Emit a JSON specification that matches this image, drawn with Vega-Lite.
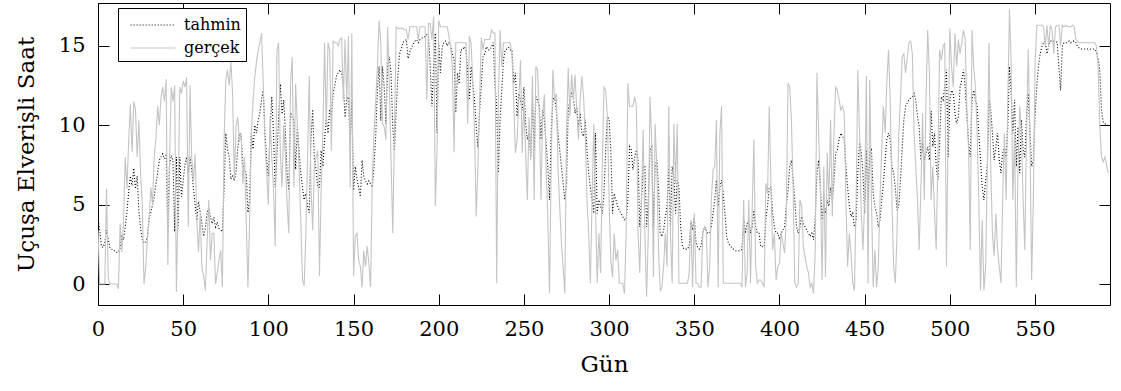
{
 "$schema": "https://vega.github.io/schema/vega-lite/v6.json",
 "width": 1012, "height": 302,
 "autosize": {"type": "none"},
 "padding": {"left": 98, "top": 3, "right": 11, "bottom": 86},
 "background": "white",
 "config": {"view": {"stroke": "black", "strokeWidth": 1}, "font": "DejaVu Serif"},
 "data": {"values": [
{"d":0,"tahmin":4.2,"gerçek":3.4},{"d":1,"tahmin":3.4,"gerçek":0},{"d":2,"tahmin":2.4,"gerçek":0},{"d":3,"tahmin":2.3,"gerçek":0},{"d":4,"tahmin":2.6,"gerçek":0},{"d":5,"tahmin":3.4,"gerçek":6},{"d":6,"tahmin":2.8,"gerçek":0.4},{"d":7,"tahmin":2.3,"gerçek":0},{"d":8,"tahmin":2.2,"gerçek":0},{"d":9,"tahmin":2.1,"gerçek":0},
{"d":10,"tahmin":2.1,"gerçek":0},{"d":11,"tahmin":2,"gerçek":0},{"d":12,"tahmin":2,"gerçek":-0.3},{"d":13,"tahmin":2.3,"gerçek":3.8},{"d":14,"tahmin":3,"gerçek":2},{"d":15,"tahmin":2.8,"gerçek":4},{"d":16,"tahmin":3.6,"gerçek":8},{"d":17,"tahmin":4.6,"gerçek":6},{"d":18,"tahmin":5.8,"gerçek":9},{"d":19,"tahmin":6.8,"gerçek":11.3},
{"d":20,"tahmin":6.2,"gerçek":8.3},{"d":21,"tahmin":7.3,"gerçek":11.5},{"d":22,"tahmin":6,"gerçek":11},{"d":23,"tahmin":6.8,"gerçek":8},{"d":24,"tahmin":4.6,"gerçek":10.3},{"d":25,"tahmin":3.5,"gerçek":7},{"d":26,"tahmin":2.8,"gerçek":5},{"d":27,"tahmin":2.6,"gerçek":0},{"d":28,"tahmin":2.6,"gerçek":1},{"d":29,"tahmin":3,"gerçek":2.8},
{"d":30,"tahmin":4.2,"gerçek":4},{"d":31,"tahmin":4.5,"gerçek":6.1},{"d":32,"tahmin":5,"gerçek":5},{"d":33,"tahmin":5.5,"gerçek":8},{"d":34,"tahmin":6.3,"gerçek":9.2},{"d":35,"tahmin":7,"gerçek":11.2},{"d":36,"tahmin":7.8,"gerçek":10},{"d":37,"tahmin":8,"gerçek":11.8},{"d":38,"tahmin":8.2,"gerçek":12.4},{"d":39,"tahmin":7.9,"gerçek":11.5},
{"d":40,"tahmin":8.1,"gerçek":12.9},{"d":41,"tahmin":3.5,"gerçek":1.2},{"d":42,"tahmin":7.5,"gerçek":8},{"d":43,"tahmin":8.1,"gerçek":12.4},{"d":44,"tahmin":7.8,"gerçek":11.5},{"d":45,"tahmin":3.3,"gerçek":12.5},{"d":46,"tahmin":8,"gerçek":-0.5},{"d":47,"tahmin":3.5,"gerçek":5},{"d":48,"tahmin":8,"gerçek":12.4},{"d":49,"tahmin":5.5,"gerçek":12},
{"d":50,"tahmin":6.5,"gerçek":12.8},{"d":51,"tahmin":7.5,"gerçek":12.4},{"d":52,"tahmin":8,"gerçek":13},{"d":53,"tahmin":7,"gerçek":3.6},{"d":54,"tahmin":8,"gerçek":12.5},{"d":55,"tahmin":7.2,"gerçek":8},{"d":56,"tahmin":6,"gerçek":6.5},{"d":57,"tahmin":5,"gerçek":8.2},{"d":58,"tahmin":4,"gerçek":4},{"d":59,"tahmin":5.2,"gerçek":2},
{"d":60,"tahmin":4.5,"gerçek":4.5},{"d":61,"tahmin":3.8,"gerçek":1},{"d":62,"tahmin":3,"gerçek":0.5},{"d":63,"tahmin":3.5,"gerçek":-0.4},{"d":64,"tahmin":4.5,"gerçek":2.5},{"d":65,"tahmin":4.8,"gerçek":5.3},{"d":66,"tahmin":4.2,"gerçek":1.5},{"d":67,"tahmin":3.8,"gerçek":3.2},{"d":68,"tahmin":4.2,"gerçek":3.2},{"d":69,"tahmin":3.6,"gerçek":0},
{"d":70,"tahmin":3.9,"gerçek":0.7},{"d":71,"tahmin":3.5,"gerçek":1.5},{"d":72,"tahmin":3.4,"gerçek":2.1},{"d":73,"tahmin":3.3,"gerçek":-0.2},{"d":74,"tahmin":6,"gerçek":9},{"d":75,"tahmin":9.5,"gerçek":12.8},{"d":76,"tahmin":8.5,"gerçek":13.5},{"d":77,"tahmin":8,"gerçek":12.5},{"d":78,"tahmin":6.6,"gerçek":14},{"d":79,"tahmin":6.8,"gerçek":12},
{"d":80,"tahmin":6.5,"gerçek":6.6},{"d":81,"tahmin":7,"gerçek":9.9},{"d":82,"tahmin":8.5,"gerçek":10.5},{"d":83,"tahmin":9.5,"gerçek":9},{"d":84,"tahmin":9.4,"gerçek":9.5},{"d":85,"tahmin":7.5,"gerçek":6.3},{"d":86,"tahmin":7.2,"gerçek":8},{"d":87,"tahmin":7,"gerçek":4},{"d":88,"tahmin":4.5,"gerçek":-0.2},{"d":89,"tahmin":5.3,"gerçek":4},
{"d":90,"tahmin":9.5,"gerçek":9.5},{"d":91,"tahmin":8.5,"gerçek":11.5},{"d":92,"tahmin":10,"gerçek":13},{"d":93,"tahmin":9.5,"gerçek":14},{"d":94,"tahmin":10.3,"gerçek":14.7},{"d":95,"tahmin":10.8,"gerçek":15.2},{"d":96,"tahmin":11.6,"gerçek":15.8},{"d":97,"tahmin":12.2,"gerçek":12.6},{"d":98,"tahmin":9.5,"gerçek":9},{"d":99,"tahmin":7.8,"gerçek":7},
{"d":100,"tahmin":6.8,"gerçek":5},{"d":101,"tahmin":9.5,"gerçek":10.5},{"d":102,"tahmin":11.8,"gerçek":8},{"d":103,"tahmin":9.5,"gerçek":6},{"d":104,"tahmin":6.1,"gerçek":2.4},{"d":105,"tahmin":8,"gerçek":14.7},{"d":106,"tahmin":10.5,"gerçek":15.2},{"d":107,"tahmin":12.6,"gerçek":8.2},{"d":108,"tahmin":10.7,"gerçek":6.1},{"d":109,"tahmin":11.6,"gerçek":10},
{"d":110,"tahmin":9.5,"gerçek":8},{"d":111,"tahmin":7,"gerçek":5},{"d":112,"tahmin":5.9,"gerçek":3.2},{"d":113,"tahmin":10.8,"gerçek":12.6},{"d":114,"tahmin":10.5,"gerçek":14.3},{"d":115,"tahmin":10.3,"gerçek":6.1},{"d":116,"tahmin":7.2,"gerçek":12.6},{"d":117,"tahmin":9.9,"gerçek":10},{"d":118,"tahmin":8.4,"gerçek":7.4},{"d":119,"tahmin":7,"gerçek":4},
{"d":120,"tahmin":6.1,"gerçek":0.3},{"d":121,"tahmin":5.3,"gerçek":-0.1},{"d":122,"tahmin":5.7,"gerçek":3.2},{"d":123,"tahmin":4.9,"gerçek":8},{"d":124,"tahmin":4.5,"gerçek":13.1},{"d":125,"tahmin":9.1,"gerçek":6.1},{"d":126,"tahmin":11,"gerçek":3.4},{"d":127,"tahmin":7.8,"gerçek":7.4},{"d":128,"tahmin":7.2,"gerçek":8},{"d":129,"tahmin":6.1,"gerçek":8.4},
{"d":130,"tahmin":6.1,"gerçek":0.5},{"d":131,"tahmin":8.4,"gerçek":6},{"d":132,"tahmin":7.4,"gerçek":9.5},{"d":133,"tahmin":9.1,"gerçek":15.2},{"d":134,"tahmin":10.5,"gerçek":9.9},{"d":135,"tahmin":9.5,"gerçek":15.2},{"d":136,"tahmin":11,"gerçek":14.7},{"d":137,"tahmin":10.5,"gerçek":8.4},{"d":138,"tahmin":12,"gerçek":15.3},{"d":139,"tahmin":12.5,"gerçek":15.2},
{"d":140,"tahmin":13.1,"gerçek":15.2},{"d":141,"tahmin":13.3,"gerçek":15},{"d":142,"tahmin":13.5,"gerçek":15.4},{"d":143,"tahmin":13.3,"gerçek":15.5},{"d":144,"tahmin":12.5,"gerçek":11.6},{"d":145,"tahmin":10.5,"gerçek":15.4},{"d":146,"tahmin":11.6,"gerçek":11.6},{"d":147,"tahmin":11.8,"gerçek":15.6},{"d":148,"tahmin":8.9,"gerçek":6.1},{"d":149,"tahmin":11.6,"gerçek":15.8},
{"d":150,"tahmin":5.9,"gerçek":0.5},{"d":151,"tahmin":7.4,"gerçek":3},{"d":152,"tahmin":6.6,"gerçek":3.2},{"d":153,"tahmin":6.1,"gerçek":1.5},{"d":154,"tahmin":5.5,"gerçek":1.1},{"d":155,"tahmin":7.8,"gerçek":-0.2},{"d":156,"tahmin":6.8,"gerçek":2.1},{"d":157,"tahmin":6.5,"gerçek":1.1},{"d":158,"tahmin":6.3,"gerçek":2.4},{"d":159,"tahmin":6.5,"gerçek":1.3},
{"d":160,"tahmin":6.3,"gerçek":-0.2},{"d":161,"tahmin":6.1,"gerçek":6.7},{"d":162,"tahmin":7.4,"gerçek":9.5},{"d":163,"tahmin":9.3,"gerçek":11.5},{"d":164,"tahmin":12.2,"gerçek":13.7},{"d":165,"tahmin":13.7,"gerçek":16.6},{"d":166,"tahmin":10.3,"gerçek":15.2},{"d":167,"tahmin":13.7,"gerçek":10.1},{"d":168,"tahmin":12.4,"gerçek":9.9},{"d":169,"tahmin":10.1,"gerçek":9.1},
{"d":170,"tahmin":13.7,"gerçek":16.2},{"d":171,"tahmin":14.3,"gerçek":12.6},{"d":172,"tahmin":13.3,"gerçek":7.8},{"d":173,"tahmin":9.9,"gerçek":3.2},{"d":174,"tahmin":8.4,"gerçek":9.5},{"d":175,"tahmin":10.9,"gerçek":16.2},{"d":176,"tahmin":13.1,"gerçek":16.1},{"d":177,"tahmin":14.5,"gerçek":16.1},{"d":178,"tahmin":14.8,"gerçek":16.1},{"d":179,"tahmin":15.2,"gerçek":16.1},
{"d":180,"tahmin":15.3,"gerçek":16},{"d":181,"tahmin":15.4,"gerçek":16},{"d":182,"tahmin":14.2,"gerçek":15.4},{"d":183,"tahmin":14.6,"gerçek":16.2},{"d":184,"tahmin":14.9,"gerçek":16.2},{"d":185,"tahmin":15.1,"gerçek":16.2},{"d":186,"tahmin":15.3,"gerçek":16.2},{"d":187,"tahmin":15.4,"gerçek":16.2},{"d":188,"tahmin":15.2,"gerçek":15.4},{"d":189,"tahmin":15.4,"gerçek":16.2},
{"d":190,"tahmin":15.5,"gerçek":16.2},{"d":191,"tahmin":15.5,"gerçek":16.2},{"d":192,"tahmin":15.6,"gerçek":16.2},{"d":193,"tahmin":15.7,"gerçek":11.6},{"d":194,"tahmin":15.6,"gerçek":16.4},{"d":195,"tahmin":13.7,"gerçek":16.4},{"d":196,"tahmin":11.2,"gerçek":15.4},{"d":197,"tahmin":13.7,"gerçek":16.85},{"d":198,"tahmin":15.8,"gerçek":4.9},{"d":199,"tahmin":9.5,"gerçek":8.5},
{"d":200,"tahmin":15.2,"gerçek":16.6},{"d":201,"tahmin":13.3,"gerçek":16.2},{"d":202,"tahmin":14.9,"gerçek":16.2},{"d":203,"tahmin":15.2,"gerçek":16.2},{"d":204,"tahmin":15.3,"gerçek":16.2},{"d":205,"tahmin":15,"gerçek":16.2},{"d":206,"tahmin":15.2,"gerçek":15.6},{"d":207,"tahmin":15,"gerçek":14.95},{"d":208,"tahmin":14.5,"gerçek":13.7},{"d":209,"tahmin":14.1,"gerçek":8.3},
{"d":210,"tahmin":10.8,"gerçek":15.2},{"d":211,"tahmin":13.3,"gerçek":15.2},{"d":212,"tahmin":12.6,"gerçek":15.2},{"d":213,"tahmin":14.75,"gerçek":15.2},{"d":214,"tahmin":14.75,"gerçek":15.2},{"d":215,"tahmin":14.95,"gerçek":15.2},{"d":216,"tahmin":14.75,"gerçek":15.2},{"d":217,"tahmin":13.3,"gerçek":10.1},{"d":218,"tahmin":11.6,"gerçek":15.6},{"d":219,"tahmin":13.7,"gerçek":15.2},
{"d":220,"tahmin":12.6,"gerçek":12.6},{"d":221,"tahmin":11.6,"gerçek":9.5},{"d":222,"tahmin":9.9,"gerçek":4.25},{"d":223,"tahmin":8.6,"gerçek":7.4},{"d":224,"tahmin":10.9,"gerçek":11.6},{"d":225,"tahmin":12.6,"gerçek":15.5},{"d":226,"tahmin":14.3,"gerçek":14.75},{"d":227,"tahmin":14.5,"gerçek":15.4},{"d":228,"tahmin":14.95,"gerçek":15.4},{"d":229,"tahmin":14.75,"gerçek":15.4},
{"d":230,"tahmin":14.75,"gerçek":15.4},{"d":231,"tahmin":14.95,"gerçek":16},{"d":232,"tahmin":15.2,"gerçek":15.8},{"d":233,"tahmin":12.6,"gerçek":15.8},{"d":234,"tahmin":11.2,"gerçek":0.05},{"d":235,"tahmin":7,"gerçek":11.6},{"d":236,"tahmin":10.3,"gerçek":16},{"d":237,"tahmin":12.2,"gerçek":13.7},{"d":238,"tahmin":14.1,"gerçek":15.2},{"d":239,"tahmin":14.75,"gerçek":15.2},
{"d":240,"tahmin":14.8,"gerçek":15.2},{"d":241,"tahmin":14.9,"gerçek":15.2},{"d":242,"tahmin":14.75,"gerçek":15.2},{"d":243,"tahmin":14.75,"gerçek":14.3},{"d":244,"tahmin":12.65,"gerçek":11.6},{"d":245,"tahmin":13.3,"gerçek":8.25},{"d":246,"tahmin":10.55,"gerçek":9.1},{"d":247,"tahmin":12,"gerçek":11.6},{"d":248,"tahmin":11.6,"gerçek":14.1},{"d":249,"tahmin":10.95,"gerçek":8.25},
{"d":250,"tahmin":12.4,"gerçek":11.6},{"d":251,"tahmin":10.1,"gerçek":8.25},{"d":252,"tahmin":9.1,"gerçek":5.3},{"d":253,"tahmin":9.5,"gerçek":10.5},{"d":254,"tahmin":8,"gerçek":7.8},{"d":255,"tahmin":11.6,"gerçek":13.1},{"d":256,"tahmin":8.45,"gerçek":5.3},{"d":257,"tahmin":11.8,"gerçek":13.7},{"d":258,"tahmin":11.6,"gerçek":13.5},{"d":259,"tahmin":11.2,"gerçek":10.75},
{"d":260,"tahmin":9.1,"gerçek":5.3},{"d":261,"tahmin":10.95,"gerçek":10.55},{"d":262,"tahmin":10.35,"gerçek":11.95},{"d":263,"tahmin":8.9,"gerçek":7.4},{"d":264,"tahmin":7.4,"gerçek":4.25},{"d":265,"tahmin":5.3,"gerçek":-0.6},{"d":266,"tahmin":9.5,"gerçek":7.4},{"d":267,"tahmin":11.6,"gerçek":13.5},{"d":268,"tahmin":11.8,"gerçek":11.6},{"d":269,"tahmin":10.95,"gerçek":12},
{"d":270,"tahmin":9.5,"gerçek":7.4},{"d":271,"tahmin":8.45,"gerçek":4.9},{"d":272,"tahmin":7.4,"gerçek":2.55},{"d":273,"tahmin":6.35,"gerçek":1.1},{"d":274,"tahmin":5.3,"gerçek":-0.6},{"d":275,"tahmin":6.35,"gerçek":9.5},{"d":276,"tahmin":10.95,"gerçek":13.6},{"d":277,"tahmin":11.6,"gerçek":10.55},{"d":278,"tahmin":12,"gerçek":13.2},{"d":279,"tahmin":11.8,"gerçek":11.6},
{"d":280,"tahmin":10.75,"gerçek":13.2},{"d":281,"tahmin":11.2,"gerçek":10.95},{"d":282,"tahmin":9.9,"gerçek":9.1},{"d":283,"tahmin":10.75,"gerçek":11.6},{"d":284,"tahmin":9.5,"gerçek":13.1},{"d":285,"tahmin":9.3,"gerçek":11.8},{"d":286,"tahmin":10.35,"gerçek":9.5},{"d":287,"tahmin":8.45,"gerçek":5.3},{"d":288,"tahmin":7,"gerçek":3.2},{"d":289,"tahmin":6.1,"gerçek":0.05},
{"d":290,"tahmin":5.3,"gerçek":5.3},{"d":291,"tahmin":4.45,"gerçek":10.1},{"d":292,"tahmin":9.5,"gerçek":4.9},{"d":293,"tahmin":4.45,"gerçek":0.05},{"d":294,"tahmin":5.3,"gerçek":3.2},{"d":295,"tahmin":4.9,"gerçek":0.7},{"d":296,"tahmin":4.45,"gerçek":7.4},{"d":297,"tahmin":5.7,"gerçek":12.4},{"d":298,"tahmin":8.45,"gerçek":12.2},{"d":299,"tahmin":10.55,"gerçek":10.55},
{"d":300,"tahmin":10.35,"gerçek":5.3},{"d":301,"tahmin":8.45,"gerçek":1.5},{"d":302,"tahmin":4.45,"gerçek":0.45},{"d":303,"tahmin":5.7,"gerçek":3.2},{"d":304,"tahmin":5.3,"gerçek":1.5},{"d":305,"tahmin":4.9,"gerçek":2.15},{"d":306,"tahmin":4.65,"gerçek":0.05},{"d":307,"tahmin":4.45,"gerçek":0.05},{"d":308,"tahmin":4.25,"gerçek":0.05},{"d":309,"tahmin":4.05,"gerçek":-0.6},
{"d":310,"tahmin":4.05,"gerçek":3.2},{"d":311,"tahmin":5.3,"gerçek":12.65},{"d":312,"tahmin":8.65,"gerçek":11.2},{"d":313,"tahmin":8.45,"gerçek":11.2},{"d":314,"tahmin":7.2,"gerçek":11.2},{"d":315,"tahmin":8,"gerçek":11.8},{"d":316,"tahmin":8.45,"gerçek":11.2},{"d":317,"tahmin":7.8,"gerçek":3.2},{"d":318,"tahmin":3.6,"gerçek":0.7},{"d":319,"tahmin":5.3,"gerçek":5.3},
{"d":320,"tahmin":7.4,"gerçek":9.7},{"d":321,"tahmin":7.4,"gerçek":3.2},{"d":322,"tahmin":3.6,"gerçek":-0.8},{"d":323,"tahmin":5.3,"gerçek":3.2},{"d":324,"tahmin":8.45,"gerçek":11.8},{"d":325,"tahmin":8.65,"gerçek":9.1},{"d":326,"tahmin":3.6,"gerçek":0.45},{"d":327,"tahmin":7.4,"gerçek":10.1},{"d":328,"tahmin":7.8,"gerçek":7.4},{"d":329,"tahmin":6.1,"gerçek":2.15},
{"d":330,"tahmin":3.2,"gerçek":-0.4},{"d":331,"tahmin":3,"gerçek":-0.2},{"d":332,"tahmin":3.4,"gerçek":1.1},{"d":333,"tahmin":4.25,"gerçek":3.2},{"d":334,"tahmin":4.9,"gerçek":1.1},{"d":335,"tahmin":7.4,"gerçek":11.2},{"d":336,"tahmin":3.6,"gerçek":3.2},{"d":337,"tahmin":7.4,"gerçek":0.05},{"d":338,"tahmin":6.8,"gerçek":10.1},{"d":339,"tahmin":4.45,"gerçek":6.35},
{"d":340,"tahmin":6.55,"gerçek":10.1},{"d":341,"tahmin":6.1,"gerçek":0.05},{"d":342,"tahmin":3.6,"gerçek":0.05},{"d":343,"tahmin":2.4,"gerçek":0.05},{"d":344,"tahmin":2.2,"gerçek":0.05},{"d":345,"tahmin":2.2,"gerçek":0.05},{"d":346,"tahmin":2.2,"gerçek":0.05},{"d":347,"tahmin":2.4,"gerçek":0.7},{"d":348,"tahmin":3.9,"gerçek":4.05},{"d":349,"tahmin":3.4,"gerçek":-0.2},
{"d":350,"tahmin":4.25,"gerçek":4.45},{"d":351,"tahmin":2.6,"gerçek":0.05},{"d":352,"tahmin":2.3,"gerçek":0.05},{"d":353,"tahmin":2.2,"gerçek":-0.2},{"d":354,"tahmin":2.4,"gerçek":-0.2},{"d":355,"tahmin":3.2,"gerçek":3.2},{"d":356,"tahmin":3.6,"gerçek":3.6},{"d":357,"tahmin":3.4,"gerçek":3.4},{"d":358,"tahmin":3.2,"gerçek":-0.2},{"d":359,"tahmin":3.2,"gerçek":1.1},
{"d":360,"tahmin":3.6,"gerçek":5.3},{"d":361,"tahmin":4.45,"gerçek":7.2},{"d":362,"tahmin":5.3,"gerçek":7.4},{"d":363,"tahmin":6.55,"gerçek":10.35},{"d":364,"tahmin":4.9,"gerçek":-0.2},{"d":365,"tahmin":6.1,"gerçek":9.5},{"d":366,"tahmin":6.55,"gerçek":11.2},{"d":367,"tahmin":5.7,"gerçek":0.05},{"d":368,"tahmin":4.45,"gerçek":0.05},{"d":369,"tahmin":3,"gerçek":0.05},
{"d":370,"tahmin":2.6,"gerçek":0.05},{"d":371,"tahmin":2.4,"gerçek":0.05},{"d":372,"tahmin":2.3,"gerçek":0.05},{"d":373,"tahmin":2.2,"gerçek":0.05},{"d":374,"tahmin":2.1,"gerçek":0.05},{"d":375,"tahmin":2.1,"gerçek":0.05},{"d":376,"tahmin":2.1,"gerçek":0.05},{"d":377,"tahmin":2.1,"gerçek":0.05},{"d":378,"tahmin":2.2,"gerçek":-0.2},{"d":379,"tahmin":4.05,"gerçek":5.3},
{"d":380,"tahmin":3.2,"gerçek":-0.2},{"d":381,"tahmin":3.8,"gerçek":0.7},{"d":382,"tahmin":4.05,"gerçek":5.3},{"d":383,"tahmin":3.2,"gerçek":0.05},{"d":384,"tahmin":3.6,"gerçek":4.9},{"d":385,"tahmin":4.65,"gerçek":9.1},{"d":386,"tahmin":3.6,"gerçek":1.1},{"d":387,"tahmin":3.2,"gerçek":0.05},{"d":388,"tahmin":3.2,"gerçek":0.25},{"d":389,"tahmin":2.35,"gerçek":0.25},
{"d":390,"tahmin":2.35,"gerçek":0.05},{"d":391,"tahmin":2.35,"gerçek":-0.2},{"d":392,"tahmin":4.05,"gerçek":6.35},{"d":393,"tahmin":4.9,"gerçek":5.7},{"d":394,"tahmin":6.1,"gerçek":11.2},{"d":395,"tahmin":6.1,"gerçek":6.1},{"d":396,"tahmin":4.45,"gerçek":2.15},{"d":397,"tahmin":3.6,"gerçek":3.2},{"d":398,"tahmin":3.2,"gerçek":0.25},{"d":399,"tahmin":3.2,"gerçek":1.1},
{"d":400,"tahmin":2.8,"gerçek":1.3},{"d":401,"tahmin":3.2,"gerçek":3.2},{"d":402,"tahmin":3.4,"gerçek":2.55},{"d":403,"tahmin":3.6,"gerçek":1.95},{"d":404,"tahmin":4.9,"gerçek":4.25},{"d":405,"tahmin":5.9,"gerçek":12.65},{"d":406,"tahmin":7.4,"gerçek":12.4},{"d":407,"tahmin":7.8,"gerçek":10.35},{"d":408,"tahmin":6.55,"gerçek":6.1},{"d":409,"tahmin":5.3,"gerçek":0.05},
{"d":410,"tahmin":3.6,"gerçek":-0.2},{"d":411,"tahmin":3.2,"gerçek":0.05},{"d":412,"tahmin":3.6,"gerçek":5.3},{"d":413,"tahmin":4.25,"gerçek":4.9},{"d":414,"tahmin":3.8,"gerçek":2.35},{"d":415,"tahmin":3.6,"gerçek":1.75},{"d":416,"tahmin":3.4,"gerçek":1.1},{"d":417,"tahmin":3.2,"gerçek":0.7},{"d":418,"tahmin":3,"gerçek":-0.2},{"d":419,"tahmin":3.2,"gerçek":0.05},
{"d":420,"tahmin":2.8,"gerçek":-0.6},{"d":421,"tahmin":4.25,"gerçek":2.15},{"d":422,"tahmin":7,"gerçek":13.3},{"d":423,"tahmin":7.8,"gerçek":9.5},{"d":424,"tahmin":6.1,"gerçek":6.1},{"d":425,"tahmin":4.05,"gerçek":0.25},{"d":426,"tahmin":5.1,"gerçek":7.4},{"d":427,"tahmin":4.45,"gerçek":0.45},{"d":428,"tahmin":5.3,"gerçek":8.25},{"d":429,"tahmin":4.9,"gerçek":5.3},
{"d":430,"tahmin":6.1,"gerçek":10.35},{"d":431,"tahmin":5.3,"gerçek":4.25},{"d":432,"tahmin":6.55,"gerçek":9.5},{"d":433,"tahmin":8.25,"gerçek":12.4},{"d":434,"tahmin":8.45,"gerçek":12.2},{"d":435,"tahmin":9.1,"gerçek":11.6},{"d":436,"tahmin":9.5,"gerçek":10.95},{"d":437,"tahmin":9.3,"gerçek":11.2},{"d":438,"tahmin":9.1,"gerçek":10.75},{"d":439,"tahmin":7.4,"gerçek":5.3},
{"d":440,"tahmin":6.1,"gerçek":1.1},{"d":441,"tahmin":4.9,"gerçek":3.2},{"d":442,"tahmin":4.25,"gerçek":1.95},{"d":443,"tahmin":4.45,"gerçek":0.05},{"d":444,"tahmin":3.6,"gerçek":-0.4},{"d":445,"tahmin":4.05,"gerçek":5.3},{"d":446,"tahmin":7,"gerçek":13.5},{"d":447,"tahmin":8.9,"gerçek":9.5},{"d":448,"tahmin":8.25,"gerçek":4.45},{"d":449,"tahmin":7,"gerçek":2.15},
{"d":450,"tahmin":4.45,"gerçek":5.3},{"d":451,"tahmin":8.45,"gerçek":13.1},{"d":452,"tahmin":5.3,"gerçek":0.05},{"d":453,"tahmin":8.25,"gerçek":12.85},{"d":454,"tahmin":8.45,"gerçek":5.3},{"d":455,"tahmin":5.7,"gerçek":-0.2},{"d":456,"tahmin":4.9,"gerçek":2.15},{"d":457,"tahmin":4.45,"gerçek":-0.2},{"d":458,"tahmin":3.6,"gerçek":1.1},{"d":459,"tahmin":4.05,"gerçek":5.3},
{"d":460,"tahmin":5.3,"gerçek":8.45},{"d":461,"tahmin":6.35,"gerçek":11.2},{"d":462,"tahmin":7.8,"gerçek":9.5},{"d":463,"tahmin":9.1,"gerçek":12.65},{"d":464,"tahmin":9.5,"gerçek":14.75},{"d":465,"tahmin":9.1,"gerçek":11.6},{"d":466,"tahmin":7.4,"gerçek":5.3},{"d":467,"tahmin":7,"gerçek":1.1},{"d":468,"tahmin":6.1,"gerçek":0.05},{"d":469,"tahmin":4.65,"gerçek":3.2},
{"d":470,"tahmin":4.9,"gerçek":9.5},{"d":471,"tahmin":6.55,"gerçek":11.6},{"d":472,"tahmin":8.45,"gerçek":14.3},{"d":473,"tahmin":10.35,"gerçek":14.5},{"d":474,"tahmin":11.2,"gerçek":13.3},{"d":475,"tahmin":11.4,"gerçek":14.3},{"d":476,"tahmin":11.6,"gerçek":15.2},{"d":477,"tahmin":11.7,"gerçek":15.3},{"d":478,"tahmin":11.8,"gerçek":14.5},{"d":479,"tahmin":12,"gerçek":9.5},
{"d":480,"tahmin":11.6,"gerçek":7.4},{"d":481,"tahmin":10.55,"gerçek":5.3},{"d":482,"tahmin":9.9,"gerçek":2.15},{"d":483,"tahmin":7.8,"gerçek":6.1},{"d":484,"tahmin":8.9,"gerçek":10.75},{"d":485,"tahmin":7.8,"gerçek":5.3},{"d":486,"tahmin":8.25,"gerçek":11.6},{"d":487,"tahmin":8.65,"gerçek":16},{"d":488,"tahmin":7.8,"gerçek":13.3},{"d":489,"tahmin":10.9,"gerçek":5.3},
{"d":490,"tahmin":8.65,"gerçek":7.4},{"d":491,"tahmin":9.5,"gerçek":4.65},{"d":492,"tahmin":7.4,"gerçek":2.15},{"d":493,"tahmin":6.55,"gerçek":8},{"d":494,"tahmin":8.9,"gerçek":14.75},{"d":495,"tahmin":11.8,"gerçek":14.1},{"d":496,"tahmin":11.6,"gerçek":14.95},{"d":497,"tahmin":12.4,"gerçek":15.2},{"d":498,"tahmin":13.5,"gerçek":1.1},{"d":499,"tahmin":8,"gerçek":9.5},
{"d":500,"tahmin":11.6,"gerçek":16.1},{"d":501,"tahmin":12.2,"gerçek":13.7},{"d":502,"tahmin":12,"gerçek":12.4},{"d":503,"tahmin":10.75,"gerçek":15.8},{"d":504,"tahmin":10.1,"gerçek":13.7},{"d":505,"tahmin":10.55,"gerçek":15.4},{"d":506,"tahmin":12.4,"gerçek":14.5},{"d":507,"tahmin":12.85,"gerçek":15.2},{"d":508,"tahmin":13.5,"gerçek":16},{"d":509,"tahmin":12.4,"gerçek":15.4},
{"d":510,"tahmin":10.55,"gerçek":10.95},{"d":511,"tahmin":8.9,"gerçek":8.45},{"d":512,"tahmin":8,"gerçek":2.15},{"d":513,"tahmin":11.6,"gerçek":16},{"d":514,"tahmin":12.2,"gerçek":13.7},{"d":515,"tahmin":11.6,"gerçek":12.4},{"d":516,"tahmin":11.2,"gerçek":9.5},{"d":517,"tahmin":9.5,"gerçek":5.3},{"d":518,"tahmin":7.8,"gerçek":-0.4},{"d":519,"tahmin":6.1,"gerçek":4.05},
{"d":520,"tahmin":5.3,"gerçek":-0.4},{"d":521,"tahmin":6.55,"gerçek":1.1},{"d":522,"tahmin":7.4,"gerçek":7.4},{"d":523,"tahmin":11.6,"gerçek":15.2},{"d":524,"tahmin":10.95,"gerçek":7.4},{"d":525,"tahmin":9.5,"gerçek":3.2},{"d":526,"tahmin":7.8,"gerçek":1.75},{"d":527,"tahmin":8.65,"gerçek":4.45},{"d":528,"tahmin":9.5,"gerçek":2.15},{"d":529,"tahmin":7.8,"gerçek":1.1},
{"d":530,"tahmin":7,"gerçek":0.05},{"d":531,"tahmin":8.25,"gerçek":5.3},{"d":532,"tahmin":8.65,"gerçek":9.5},{"d":533,"tahmin":8,"gerçek":5.3},{"d":534,"tahmin":9.9,"gerçek":11.6},{"d":535,"tahmin":13.7,"gerçek":17.3},{"d":536,"tahmin":12,"gerçek":13.7},{"d":537,"tahmin":9.5,"gerçek":5.3},{"d":538,"tahmin":11.6,"gerçek":9.5},{"d":539,"tahmin":7.4,"gerçek":-0.2},
{"d":540,"tahmin":9.9,"gerçek":7.4},{"d":541,"tahmin":7,"gerçek":11.2},{"d":542,"tahmin":10.35,"gerçek":9.5},{"d":543,"tahmin":8.45,"gerçek":5.3},{"d":544,"tahmin":8,"gerçek":2.15},{"d":545,"tahmin":10.55,"gerçek":9.5},{"d":546,"tahmin":12,"gerçek":14.75},{"d":547,"tahmin":9.5,"gerçek":9.5},{"d":548,"tahmin":7.4,"gerçek":0.25},{"d":549,"tahmin":7.8,"gerçek":5.3},
{"d":550,"tahmin":10.55,"gerçek":13.7},{"d":551,"tahmin":12.4,"gerçek":16.3},{"d":552,"tahmin":13.7,"gerçek":16.3},{"d":553,"tahmin":14.5,"gerçek":16.3},{"d":554,"tahmin":14.95,"gerçek":16.3},{"d":555,"tahmin":15.2,"gerçek":16.2},{"d":556,"tahmin":15.3,"gerçek":15},{"d":557,"tahmin":14.5,"gerçek":16.3},{"d":558,"tahmin":15,"gerçek":14.95},{"d":559,"tahmin":15.3,"gerçek":16.3},
{"d":560,"tahmin":15.3,"gerçek":16},{"d":561,"tahmin":15.3,"gerçek":14.5},{"d":562,"tahmin":15.3,"gerçek":16.2},{"d":563,"tahmin":15.2,"gerçek":16.3},{"d":564,"tahmin":13.7,"gerçek":16.3},{"d":565,"tahmin":12.2,"gerçek":15},{"d":566,"tahmin":14.95,"gerçek":16.3},{"d":567,"tahmin":15.2,"gerçek":16.2},{"d":568,"tahmin":15.2,"gerçek":16.3},{"d":569,"tahmin":15.2,"gerçek":16.2},
{"d":570,"tahmin":15.3,"gerçek":16.2},{"d":571,"tahmin":15.2,"gerçek":16.2},{"d":572,"tahmin":15.3,"gerçek":16.3},{"d":573,"tahmin":15.3,"gerçek":16.2},{"d":574,"tahmin":15.2,"gerçek":15.4},{"d":575,"tahmin":14.95,"gerçek":15.3},{"d":576,"tahmin":14.85,"gerçek":15.2},{"d":577,"tahmin":14.8,"gerçek":15.2},{"d":578,"tahmin":14.8,"gerçek":15.2},{"d":579,"tahmin":14.8,"gerçek":15.2},
{"d":580,"tahmin":14.8,"gerçek":15.2},{"d":581,"tahmin":14.8,"gerçek":15.2},{"d":582,"tahmin":14.8,"gerçek":15.2},{"d":583,"tahmin":14.8,"gerçek":15.2},{"d":584,"tahmin":14.8,"gerçek":15.2},{"d":585,"tahmin":14.8,"gerçek":15.2},{"d":586,"tahmin":14.6,"gerçek":15},{"d":587,"tahmin":14.2,"gerçek":13.8},{"d":588,"tahmin":13.5,"gerçek":10},{"d":589,"tahmin":11,"gerçek":8},
{"d":590,"tahmin":10.2,"gerçek":7.7},{"d":591,"tahmin":10.1,"gerçek":8},{"d":592,"tahmin":10,"gerçek":7.5},{"d":593,"tahmin":10,"gerçek":7}
 ]},
 "transform": [{"fold": ["tahmin", "gerçek"], "as": ["seri", "saat"]}],
 "layer": [
  {
   "mark": {"type": "line", "strokeWidth": 1.1, "clip": true},
   "encoding": {
    "x": {"field": "d", "type": "quantitative", "scale": {"domain": [0, 594], "nice": false, "zero": false},
     "axis": {"values": [0,50,100,150,200,250,300,350,400,450,500,550], "title": "Gün", "grid": false, "domain": false,
      "tickSize": -11, "tickColor": "black", "labelFont": "DejaVu Serif", "labelFontSize": 21, "labelColor": "black", "labelPadding": 24, "labelFlush": false,
      "titleFont": "DejaVu Serif", "titleFontSize": 23, "titleFontWeight": "normal", "titleColor": "black", "titlePadding": 14}},
    "y": {"field": "saat", "type": "quantitative", "scale": {"domain": [-1.32, 17.7], "nice": false, "zero": false},
     "axis": {"values": [0,5,10,15], "title": "Uçuşa Elverişli Saat", "grid": false, "domain": false,
      "tickSize": -11, "tickColor": "black", "labelFont": "DejaVu Serif", "labelFontSize": 21, "labelColor": "black", "labelPadding": 24,
      "titleFont": "DejaVu Serif", "titleFontSize": 23, "titleFontWeight": "normal", "titleColor": "black", "titlePadding": 20}},
    "color": {"field": "seri", "type": "nominal", "scale": {"domain": ["tahmin", "gerçek"], "range": ["#000000", "#c4c4c4"]},
     "legend": {"title": null, "orient": "none", "legendX": 20, "legendY": 5, "symbolType": "M-2,0H2", "symbolSize": 500, "symbolStrokeWidth": 1.2, "symbolOffset": 18,
      "labelFont": "DejaVu Serif", "labelFontSize": 16, "labelColor": "black", "fillColor": "white", "strokeColor": "black", "padding": 5, "rowPadding": 3, "labelOffset": 19}},
    "strokeDash": {"field": "seri", "type": "nominal", "scale": {"domain": ["tahmin", "gerçek"], "range": [[1, 2], [1, 0]]},
     "legend": {"title": null, "orient": "none", "legendX": 20, "legendY": 5, "symbolType": "M-2,0H2", "symbolSize": 500, "symbolStrokeWidth": 1.2, "symbolOffset": 18,
      "labelFont": "DejaVu Serif", "labelFontSize": 16, "labelColor": "black", "fillColor": "white", "strokeColor": "black", "padding": 5, "rowPadding": 3, "labelOffset": 19}}
   }
  },
  {
   "mark": {"type": "line", "strokeOpacity": 0, "clip": true},
   "encoding": {
    "x": {"field": "d", "type": "quantitative", "axis": {"orient": "top", "values": [0,50,100,150,200,250,300,350,400,450,500,550], "labels": false, "title": null, "grid": false, "domain": false, "tickSize": -11, "tickColor": "black"}},
    "y": {"field": "saat", "type": "quantitative", "axis": {"orient": "right", "values": [0,5,10,15], "labels": false, "title": null, "grid": false, "domain": false, "tickSize": -11, "tickColor": "black"}},
    "detail": {"field": "seri"}
   }
  }
 ],
 "resolve": {"axis": {"x": "independent", "y": "independent"}}
}
